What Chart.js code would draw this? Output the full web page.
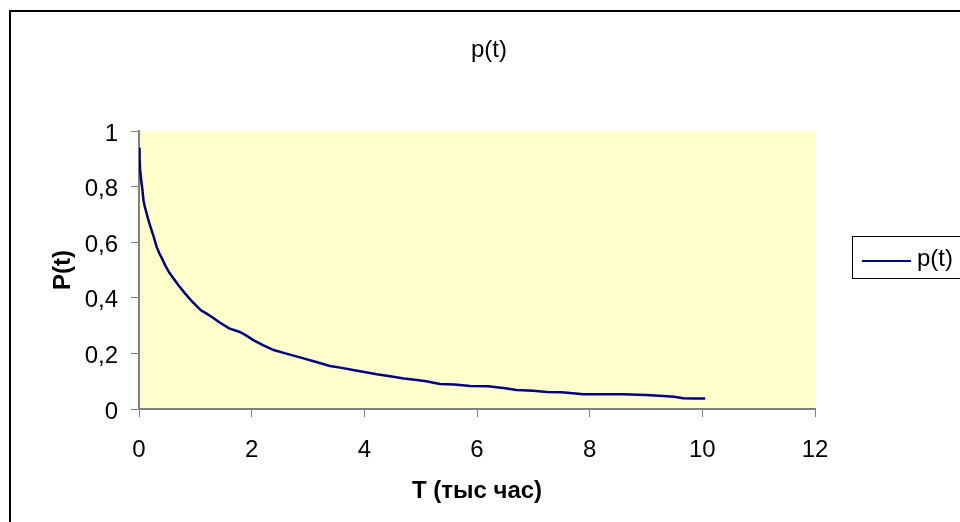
<!DOCTYPE html>
<html>
<head>
<meta charset="utf-8">
<script src="https://cdn.jsdelivr.net/npm/chart.js@4/dist/chart.umd.min.js"></script>
<style>
html,body{margin:0;padding:0;background:#fff;}
#wrap{width:960px;height:522px;position:relative;}
</style>
</head>
<body>
<div id="wrap"><canvas id="c" width="960" height="522"></canvas></div>
<script>
const chartTitle = "p(t)";
const seriesLabel = "p(t)";
const xTitle = "T (тыс час)";
const yTitle = "P(t)";
const tValues = [0, 0.01, 0.02, 0.04, 0.06, 0.08, 0.1, 0.14, 0.18, 0.22, 0.26, 0.31, 0.36, 0.4, 0.47, 0.54, 0.61, 0.7, 0.82, 0.95, 1.1, 1.2, 1.3, 1.44, 1.6, 1.79, 1.9, 2.03, 2.2, 2.39, 2.6, 2.92, 3.1, 3.39, 3.6, 3.8, 4.0, 4.22, 4.46, 4.7, 4.93, 5.1, 5.34, 5.6, 5.88, 6.2, 6.5, 6.7, 7.0, 7.24, 7.5, 7.89, 8.2, 8.6, 9.0, 9.31, 9.5, 9.66, 9.85, 10.05];
const pValues = [0.94, 0.9, 0.86, 0.82, 0.79, 0.75, 0.73, 0.70, 0.67, 0.645, 0.62, 0.585, 0.56, 0.545, 0.515, 0.49, 0.47, 0.445, 0.415, 0.385, 0.355, 0.343, 0.33, 0.31, 0.29, 0.277, 0.265, 0.248, 0.23, 0.212, 0.2, 0.182, 0.172, 0.155, 0.148, 0.14, 0.133, 0.125, 0.118, 0.11, 0.104, 0.1, 0.09, 0.088, 0.083, 0.082, 0.075, 0.068, 0.066, 0.061, 0.06, 0.053, 0.053, 0.053, 0.05, 0.047, 0.044, 0.039, 0.038, 0.038];

const FONT = "'Liberation Sans', Arial, sans-serif";
const FS = 24;
const points = tValues.map((t, i) => ({x: t, y: pValues[i]}));

const decor = {
  id: 'decor',
  beforeDraw(chart) {
    const ctx = chart.ctx, a = chart.chartArea;
    ctx.save();
    ctx.fillStyle = '#FFFFCC';
    ctx.fillRect(a.left, a.top, a.right - a.left, a.bottom - a.top);
    ctx.restore();
  },
  afterDraw(chart) {
    const ctx = chart.ctx;
    ctx.save();
    ctx.strokeStyle = '#000';
    ctx.lineWidth = 2;
    ctx.strokeRect(10, 11, 1000, 600);
    ctx.fillStyle = '#000';
    ctx.font = FS + 'px ' + FONT;
    ctx.textAlign = 'center';
    ctx.textBaseline = 'middle';
    ctx.fillText(chartTitle, 489, 50);
    ctx.lineWidth = 1;
    ctx.strokeStyle = '#000';
    ctx.strokeRect(852.5, 236.5, 140, 42);
    ctx.strokeStyle = '#000080';
    ctx.lineWidth = 2;
    ctx.beginPath();
    ctx.moveTo(862, 261);
    ctx.lineTo(911, 261);
    ctx.stroke();
    ctx.textAlign = 'left';
    ctx.fillText(seriesLabel, 917, 259);
    ctx.restore();
  }
};

new Chart(document.getElementById('c'), {
  type: 'line',
  data: {
    datasets: [{
      label: seriesLabel,
      data: points,
      borderColor: '#000080',
      borderWidth: 2.5,
      pointRadius: 0,
      tension: 0,
      fill: false
    }]
  },
  options: {
    responsive: false,
    animation: false,
    devicePixelRatio: 1,
    layout: {padding: {top: 131, right: 145, left: 0, bottom: 0}},
    plugins: {legend: {display: false}, title: {display: false}, tooltip: {enabled: false}},
    scales: {
      x: {
        type: 'linear', min: 0, max: 12,
        afterFit(s) { s.height = 113; },
        border: {color: '#808080', width: 2},
        grid: {drawOnChartArea: false, tickLength: 8, color: '#808080', lineWidth: 1},
        ticks: {stepSize: 2, color: '#000', padding: 19, font: {family: FONT, size: FS},
          callback: v => String(v)},
        title: {display: true, text: xTitle, color: '#000', padding: {top: 0, bottom: 16},
          font: {family: FONT, size: FS, weight: 'bold'}}
      },
      y: {
        type: 'linear', min: 0, max: 1,
        afterFit(s) { s.width = 139; },
        border: {color: '#808080', width: 2},
        grid: {drawOnChartArea: false, tickLength: 8, color: '#808080', lineWidth: 1},
        ticks: {stepSize: 0.2, color: '#000', padding: 13, labelOffset: 3, font: {family: FONT, size: FS},
          callback: v => String(Math.round(v * 10) / 10).replace('.', ',')},
        title: {display: true, text: yTitle, color: '#000', padding: {top: 49, bottom: 0},
          font: {family: FONT, size: FS, weight: 'bold'}}
      }
    }
  },
  plugins: [decor]
});
</script>
</body>
</html>
